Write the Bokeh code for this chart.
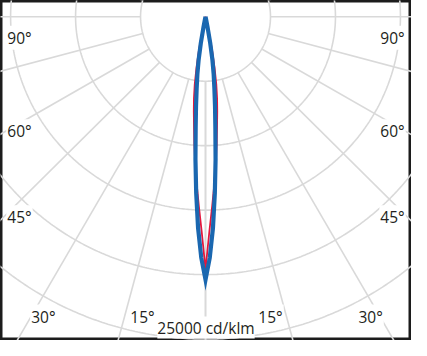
import numpy as np
from bokeh.plotting import figure
from bokeh.models import Range1d
from bokeh.core.properties import value
from bokeh.embed import file_html
from bokeh.resources import INLINE

# ---- data (cd/klm) ----
angles_deg = [0, 1, 2, 3, 4, 5, 6, 7, 8, 9, 10, 11, 12, 13, 14, 15]
plane_c0 = [20400, 18700, 16400, 13700, 11100, 8700, 7000, 5600, 4500, 3400, 2100, 800, 200, 0, 0, 0]
plane_c90 = [19600, 16700, 14700, 13000, 11400, 9900, 8500, 7400, 6400, 5300, 4000, 2700, 1300, 400, 100, 0]
ring_values = [5000, 10000, 15000, 20000, 25000]
spoke_angles = [0, 15, 30, 45, 60, 75, 90, 105, 120, 135, 150, 165, 180]
side_labels = ["90°", "60°", "45°"]
bottom_labels = ["30°", "15°", "15°", "30°"]
scale_label = "25000 cd/klm"

# ---- layout ----
U = 5000 / 67.5          # data units per reference pixel
W, H = 411, 340
GRID = "#d9d9d9"
TXT = "#231f20"
FONT = value("Open Sans")

p = figure(width=W, height=H, output_backend="svg", toolbar_location=None,
           x_range=Range1d(-213 * U, 214 * U), y_range=Range1d(-339 * U, 17 * U),
           min_border=0)
p.axis.visible = False
p.grid.visible = False
p.background_fill_color = "white"
p.border_fill_color = "white"
p.outline_line_color = "#1c1c1c"
p.outline_line_width = 4

# rings
t = np.linspace(0, 2 * np.pi, 721)
for r in ring_values:
    p.line(r * np.cos(t), r * np.sin(t), line_color=GRID, line_width=1.6)

# spokes (from first ring outward), both sides
r0, r1 = ring_values[0], 60000
xs, ys = [], []
for a in spoke_angles:
    for s in (1, -1):
        th = np.radians(a) * s
        xs.append([r0 * np.sin(th), r1 * np.sin(th)])
        ys.append([-r0 * np.cos(th), -r1 * np.cos(th)])
p.multi_line(xs, ys, line_color=GRID, line_width=1.6)


def curve(vals):
    ang = [-a for a in angles_deg[:0:-1]] + angles_deg
    iv = vals[:0:-1] + vals
    th = np.radians(ang)
    iv = np.array(iv, dtype=float)
    return iv * np.sin(th), -iv * np.cos(th)


x90, y90 = curve(plane_c90)
p.line(x90, y90, line_color="#e3173c", line_width=1.8, line_join="round")
x0, y0 = curve(plane_c0)
p.line(x0, y0, line_color="#1a67b0", line_width=4.2, line_join="miter")

# labels (reference pixel positions -> data)
def px(X):
    return (X - 213) * U

def py(Y):
    return (17 - Y) * U

side_base = [39, 137, 227]
common = dict(text_font=FONT, text_font_size="15.5px", text_color=TXT,
              text_baseline="alphabetic", background_fill_color="white")
p.text(x=[px(6)] * 3, y=[py(b) for b in side_base], text=side_labels,
       text_align="left", padding=1, **common)
p.text(x=[px(421)] * 3, y=[py(b) for b in side_base], text=side_labels,
       text_align="right", padding=1, **common)
p.text(x=[px(c) for c in (44.5, 147.5, 280.5, 384.5)], y=[py(331)] * 4,
       text=bottom_labels, text_align="center", padding=1, **common)
p.text(x=[px(213.5)], y=[py(342.5)], text=[scale_label], text_align="center",
       padding=0, **common)

open("out.html", "w").write(file_html(p, INLINE))
